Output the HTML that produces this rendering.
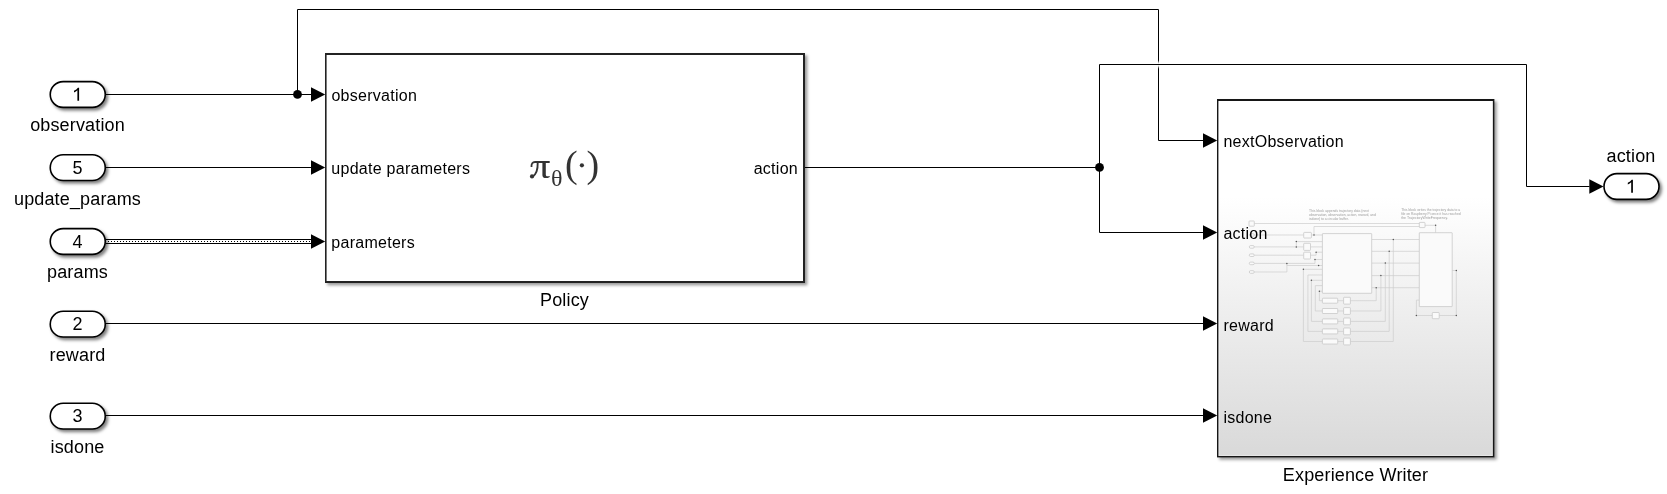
<!DOCTYPE html>
<html>
<head>
<meta charset="utf-8">
<style>
html,body{margin:0;padding:0;background:#fff;}
body{width:1667px;height:494px;overflow:hidden;}
svg{display:block;}
text{font-family:"Liberation Sans",sans-serif;fill:#000;}
.lbl{font-size:18px;letter-spacing:0.15px;}
.port{font-size:16px;letter-spacing:0.27px;}
.num{font-size:18px;}
text.mini-t,.mini-t text{font-size:4.1px;fill:#9c9c9c;letter-spacing:0;}
text.ser{font-family:"Liberation Serif",serif;fill:#333;}
</style>
</head>
<body>
<svg width="1667" height="494" viewBox="0 0 1667 494" style="will-change:transform">
<defs>
  <filter id="sh" x="-10%" y="-10%" width="130%" height="140%">
    <feDropShadow dx="2.2" dy="2.4" stdDeviation="1.35" flood-color="#000" flood-opacity="0.5"/>
  </filter>
  <filter id="shb" x="-10%" y="-10%" width="130%" height="140%">
    <feDropShadow dx="2.3" dy="2.3" stdDeviation="1.85" flood-color="#000" flood-opacity="0.4"/>
  </filter>
  <filter id="blur1" x="-50%" y="-50%" width="200%" height="200%">
    <feGaussianBlur stdDeviation="0.9"/>
  </filter>
  <linearGradient id="ewg" x1="0" y1="0" x2="0" y2="1">
    <stop offset="0" stop-color="#ffffff"/>
    <stop offset="0.27" stop-color="#ffffff"/>
    <stop offset="1" stop-color="#d9d9d9"/>
  </linearGradient>
</defs>

<!-- ===== Signal lines ===== -->
<g fill="none" stroke="#000" stroke-width="1">
  <path d="M105.5 94.5 H311"/>
  <path d="M297.5 94.5 V9.5 H1158.5 V140.5 H1203"/>
  <path d="M105.5 167.5 H311"/>
  <path d="M805 167.5 H1099.5"/>
  <path d="M1099.5 167.5 V232.5 H1203"/>
  <path d="M105.5 323.5 H1203"/>
  <path d="M105.5 415.5 H1203"/>
  <path d="M105.5 239.5 H311"/>
  <path d="M105.5 243.5 H311"/>
</g>
<path d="M105 241.5 H311" stroke="#000" stroke-width="1" stroke-dasharray="1 2" fill="none"/>
<!-- crossing halo -->
<rect x="1155.5" y="61.9" width="6" height="5.2" fill="#fff" filter="url(#blur1)"/>
<path d="M1099.5 167.5 V64.5 H1526.5 V186.5 H1589.5" fill="none" stroke="#000" stroke-width="1"/>

<!-- junction dots -->
<circle cx="297.5" cy="94.4" r="4.4" fill="#000"/>
<circle cx="1099.5" cy="167.4" r="4.4" fill="#000"/>

<!-- arrowheads -->
<g fill="#000">
  <path d="M311 87.2 L325.2 94.5 L311 101.8 Z"/>
  <path d="M311 160.2 L325.2 167.5 L311 174.8 Z"/>
  <path d="M311 234.2 L325.2 241.5 L311 248.8 Z"/>
  <path d="M1203 133.2 L1217.2 140.5 L1203 147.8 Z"/>
  <path d="M1203 225.2 L1217.2 232.5 L1203 239.8 Z"/>
  <path d="M1203 316.2 L1217.2 323.5 L1203 330.8 Z"/>
  <path d="M1203 408.2 L1217.2 415.5 L1203 422.8 Z"/>
  <path d="M1589.3 179.2 L1603.5 186.5 L1589.3 193.8 Z"/>
</g>

<!-- ===== Inports / Outport ===== -->
<g fill="#fff" stroke="#000" stroke-width="1.6" filter="url(#sh)">
  <rect x="50.25" y="81.6" width="55" height="25.75" rx="12.9"/>
  <rect x="50.25" y="154.75" width="55" height="25.75" rx="12.9"/>
  <rect x="50.25" y="228.65" width="55" height="25.75" rx="12.9"/>
  <rect x="50.25" y="311.3" width="55" height="25.75" rx="12.9"/>
  <rect x="50.25" y="403.3" width="55" height="25.75" rx="12.9"/>
  <rect x="1604" y="173.65" width="55" height="25.75" rx="12.9"/>
</g>
<g text-anchor="middle">
  <text x="77.5" y="174" class="num">5</text>
  <text x="77.5" y="248" class="num">4</text>
  <text x="77.5" y="330" class="num">2</text>
  <text x="77.5" y="422" class="num">3</text>
</g>
<g fill="#000">
  <path id="one" d="M79.1 87.8 L79.1 100.8 L77.4 100.8 L77.4 90.2 Q76 91.6 74 92.6 L74 90.8 Q76.6 89.6 77.9 87.8 Z"/>
  <use href="#one" x="1553.8" y="92"/>
</g>
<g text-anchor="middle">
  <text x="77.5" y="131" class="lbl">observation</text>
  <text x="77.5" y="205" class="lbl">update_params</text>
  <text x="77.5" y="278" class="lbl">params</text>
  <text x="77.5" y="361" class="lbl">reward</text>
  <text x="77.5" y="452.8" class="lbl">isdone</text>
  <text x="1631" y="162" class="lbl">action</text>
</g>

<!-- ===== Policy block ===== -->
<rect x="325" y="53" width="480" height="230" fill="#222" filter="url(#shb)"/>
<rect x="326.6" y="55" width="476.4" height="226" fill="#fff"/>
<text x="331.4" y="101" class="port">observation</text>
<text x="331.3" y="174" class="port">update parameters</text>
<text x="331.3" y="248" class="port">parameters</text>
<text x="798" y="174" class="port" text-anchor="end">action</text>
<text x="564.5" y="306" class="lbl" text-anchor="middle">Policy</text>
<g fill="#333">
  <path d="M531.5 167 C531.2 163.8 532.6 162 535 162 L549.7 162" fill="none" stroke="#333" stroke-width="1.8"/>
  <path d="M537.7 162.4 C537.9 169.5 535.6 175 532.4 176.8" fill="none" stroke="#333" stroke-width="1.9"/>
  <circle cx="532" cy="176.4" r="2.1"/>
  <path d="M542.4 162.4 L545.8 162.4 L545.8 174.4 C545.8 176.1 547.2 176.7 549.7 175.9 L549.7 176.9 C547.2 178.6 542.4 178.9 542.4 175.2 Z"/>
  <circle cx="581.9" cy="165.3" r="2.1"/>
</g>
<text class="ser" x="551" y="186.3" font-size="24">θ</text>
<text class="ser" x="565" y="177.2" font-size="38">(</text>
<text class="ser" x="586.6" y="177.2" font-size="38">)</text>

<!-- ===== Experience Writer block ===== -->
<rect x="1217" y="99" width="277.4" height="358.4" fill="#141414" filter="url(#shb)"/>
<rect x="1218.5" y="101" width="274.3" height="355" fill="url(#ewg)"/>
<rect x="1219" y="101.5" width="273.3" height="354" fill="none" stroke="#fff" stroke-opacity="0.35" stroke-width="1"/>
<g id="mini">
<g fill="none" stroke="#cdcdcd" stroke-width="0.7">
<path d="M1254.3 223.5 L1419.8 223.5"/>
<path d="M1314.0 235.0 L1314.0 226.5 L1419.8 226.5"/>
<path d="M1425.0 225.3 L1435.6 225.3 L1435.6 232.7"/>
<path d="M1254.3 235.0 L1303.7 235.0"/>
<path d="M1311.4 235.0 L1322.4 235.0"/>
<path d="M1254.3 246.9 L1303.7 246.9"/>
<path d="M1296.3 246.9 L1296.3 241.6 L1322.4 241.6"/>
<path d="M1310.5 246.9 L1322.4 246.9"/>
<path d="M1254.3 255.2 L1303.7 255.2"/>
<path d="M1310.5 255.2 L1316.1 255.2 L1316.1 252.2 L1322.4 252.2"/>
<path d="M1254.3 263.4 L1315.0 263.4 L1315.0 259.5 L1322.4 259.5"/>
<path d="M1254.3 272.0 L1286.9 272.0 L1286.9 265.5 L1322.4 265.5"/>
<path d="M1286.9 263.4 L1286.9 265.5"/>
<path d="M1322.4 269.3 L1303.4 269.3 L1303.4 341.5 L1322.4 341.5"/>
<path d="M1322.4 275.0 L1307.9 275.0 L1307.9 331.4 L1322.4 331.4"/>
<path d="M1322.4 280.3 L1311.4 280.3 L1311.4 321.4 L1322.4 321.4"/>
<path d="M1322.4 285.6 L1315.3 285.6 L1315.3 311.0 L1322.4 311.0"/>
<path d="M1322.4 291.2 L1319.4 291.2 L1319.4 300.7 L1322.4 300.7"/>
<path d="M1371.7 287.7 L1419.3 287.7"/>
<path d="M1376.2 287.7 L1376.2 300.7 L1350.4 300.7"/>
<path d="M1371.7 275.6 L1419.3 275.6"/>
<path d="M1380.9 275.6 L1380.9 311.0 L1350.4 311.0"/>
<path d="M1371.7 263.1 L1419.3 263.1"/>
<path d="M1385.3 263.1 L1385.3 321.4 L1350.4 321.4"/>
<path d="M1371.7 251.3 L1419.3 251.3"/>
<path d="M1389.2 251.3 L1389.2 331.4 L1350.4 331.4"/>
<path d="M1371.7 239.5 L1419.3 239.5"/>
<path d="M1393.3 239.5 L1393.3 341.5 L1350.4 341.5"/>
<path d="M1337.7 300.7 L1343.6 300.7"/>
<path d="M1337.7 311.0 L1343.6 311.0"/>
<path d="M1337.7 321.4 L1343.6 321.4"/>
<path d="M1337.7 331.4 L1343.6 331.4"/>
<path d="M1337.7 341.5 L1343.6 341.5"/>
<path d="M1452.2 270.5 L1456.3 270.5 L1456.3 315.5 L1439.2 315.5"/>
<path d="M1432.3 315.5 L1416.4 315.5 L1416.4 300.1 L1419.3 300.1"/>
</g>
<g fill="#fafafa" stroke="#c3c3c3" stroke-width="0.7">
<rect x="1249.0" y="221.0" width="5.3" height="5.2" rx="0.6"/>
<rect x="1419.3" y="222.4" width="5.7" height="5.2" rx="0.6"/>
<rect x="1303.7" y="232.4" width="7.7" height="5.6" rx="0.6"/>
<rect x="1303.7" y="243.3" width="6.8" height="7.1" rx="0.6"/>
<rect x="1303.7" y="252.2" width="6.8" height="6.8" rx="0.6"/>
<rect x="1249.3" y="233.7" width="5.0" height="2.6" rx="1.3"/>
<rect x="1249.3" y="245.6" width="5.0" height="2.6" rx="1.3"/>
<rect x="1249.3" y="253.9" width="5.0" height="2.6" rx="1.3"/>
<rect x="1249.3" y="262.1" width="5.0" height="2.6" rx="1.3"/>
<rect x="1249.3" y="270.7" width="5.0" height="2.6" rx="1.3"/>
<rect x="1322.4" y="233.6" width="49.3" height="59.7" rx="0.3"/>
<rect x="1419.3" y="232.7" width="32.9" height="73.9" rx="0.3"/>
<rect x="1322.4" y="298.2" width="15.3" height="5.0" rx="0.6"/>
<rect x="1343.6" y="297.3" width="6.8" height="6.8" rx="0.6"/>
<rect x="1322.4" y="308.5" width="15.3" height="5.0" rx="0.6"/>
<rect x="1343.6" y="307.6" width="6.8" height="6.8" rx="0.6"/>
<rect x="1322.4" y="318.9" width="15.3" height="5.0" rx="0.6"/>
<rect x="1343.6" y="318.0" width="6.8" height="6.8" rx="0.6"/>
<rect x="1322.4" y="328.9" width="15.3" height="5.0" rx="0.6"/>
<rect x="1343.6" y="328.0" width="6.8" height="6.8" rx="0.6"/>
<rect x="1322.4" y="339.0" width="15.3" height="5.0" rx="0.6"/>
<rect x="1343.6" y="338.1" width="6.8" height="6.8" rx="0.6"/>
<rect x="1432.3" y="312.5" width="6.9" height="6.2" rx="0.6"/>
</g>
<g fill="#555">
<circle cx="1314.0" cy="235.0" r="0.75"/>
<circle cx="1435.6" cy="225.3" r="0.75"/>
<circle cx="1296.3" cy="241.6" r="0.75"/>
<circle cx="1296.3" cy="246.9" r="0.75"/>
<circle cx="1316.1" cy="252.2" r="0.75"/>
<circle cx="1286.9" cy="263.4" r="0.75"/>
<circle cx="1315.0" cy="259.5" r="0.75"/>
<circle cx="1318.6" cy="265.5" r="0.75"/>
<circle cx="1303.4" cy="269.3" r="0.75"/>
<circle cx="1311.4" cy="280.3" r="0.75"/>
<circle cx="1319.4" cy="291.2" r="0.75"/>
<circle cx="1376.2" cy="287.7" r="0.75"/>
<circle cx="1380.9" cy="275.6" r="0.75"/>
<circle cx="1385.3" cy="263.1" r="0.75"/>
<circle cx="1389.2" cy="251.3" r="0.75"/>
<circle cx="1393.3" cy="239.5" r="0.75"/>
<circle cx="1456.3" cy="270.5" r="0.75"/>
<circle cx="1456.3" cy="315.5" r="0.75"/>
<circle cx="1416.4" cy="315.5" r="0.75"/>
</g>
<g class="mini-t">
<text x="1309.1" y="211.7" textLength="59.7" lengthAdjust="spacingAndGlyphs">This block appends trajectory data (next</text>
<text x="1309.1" y="215.8" textLength="66.7" lengthAdjust="spacingAndGlyphs">observation, observation, action, reward, and</text>
<text x="1309.1" y="219.6" textLength="39.6" lengthAdjust="spacingAndGlyphs">isdone) to a circular buffer.</text>
<text x="1401.2" y="210.7" textLength="59" lengthAdjust="spacingAndGlyphs">This block writes the trajectory data to a</text>
<text x="1401.2" y="214.8" textLength="59.5" lengthAdjust="spacingAndGlyphs">file on Raspberry Pi once it has reached</text>
<text x="1401.2" y="218.7" textLength="46.8" lengthAdjust="spacingAndGlyphs">the TrajectoryWriteFrequency.</text>
</g>
</g>
<text x="1223.4" y="147" class="port">nextObservation</text>
<text x="1223.4" y="239" class="port">action</text>
<text x="1223.4" y="331" class="port">reward</text>
<text x="1223.4" y="422.8" class="port">isdone</text>
<text x="1355.5" y="481" class="lbl" text-anchor="middle">Experience Writer</text>

</svg>
</body>
</html>
